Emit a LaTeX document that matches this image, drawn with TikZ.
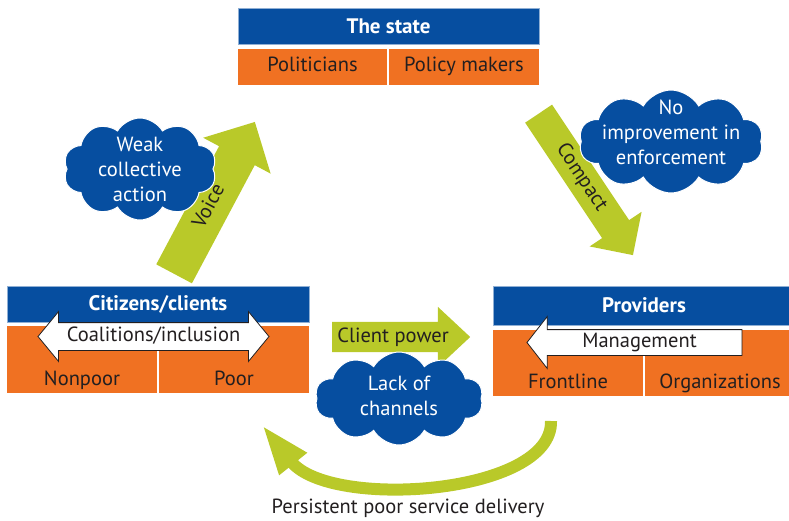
\documentclass[tikz,border=0pt]{standalone}
\usepackage{fontspec}
\setmainfont{PT Sans}
\usetikzlibrary{positioning,shapes.symbols,shapes.arrows,arrows.meta}
\definecolor{wbblue}{RGB}{6,78,160}
\definecolor{wborange}{RGB}{240,113,34}
\definecolor{wbgreen}{RGB}{185,201,41}
\definecolor{wbtext}{RGB}{35,31,32}

\begin{document}
\begin{tikzpicture}[x=1pt,y=-1pt,font=\fontsize{20.5}{25}\selectfont,text=wbtext]
\tikzstyle{header}=[rectangle,fill=wbblue,draw=wbblue!45,line width=0.6pt,text=white,font=\fontsize{21}{24}\selectfont\bfseries,inner sep=0pt,outer sep=0pt,minimum height=36pt]
\tikzstyle{cell}=[rectangle,fill=wborange,inner sep=0pt,outer sep=0pt,minimum width=150pt]
\tikzstyle{blob}=[cloud,cloud puffs=10,cloud puff arc=120,cloud ignores aspect,fill=wbblue,draw=white,line width=1pt,inner sep=0pt]
\tikzstyle{blobtext}=[text=white,align=center]
\tikzstyle{bigarrow}=[single arrow,fill=wbgreen,inner xsep=0pt,text height=14pt,text depth=4pt,single arrow head indent=0pt]
\tikzstyle{openarrow}=[fill=white,draw=wbtext,line width=0.8pt,inner xsep=0pt,text height=14pt,text depth=4pt]

\useasboundingbox (0,0) rectangle (789,520);

% the state
\node[header,minimum width=301pt,anchor=north west] (state) at (238,8) {The state};
\node[cell,minimum width=149pt,text height=22pt,text depth=14pt,below right=5pt and 0pt of state.south west] (politicians) {Politicians};
\node[cell,text height=22pt,text depth=14pt,right=2pt of politicians] (policymakers) {Policy makers};

% citizens
\node[header,minimum width=302pt,anchor=north west] (citizens) at (7,286) {Citizens/clients};
\node[cell,text height=59pt,text depth=8pt,below right=4pt and 0pt of citizens.south west] (nonpoor) {Nonpoor};
\node[cell,text height=59pt,text depth=8pt,right=2pt of nonpoor] (poor) {Poor};

% providers
\node[header,minimum width=302pt,minimum height=39pt,anchor=north west] (providers) at (493,286) {Providers};
\node[cell,text height=58pt,text depth=8pt,below right=5pt and 0pt of providers.south west] (frontline) {Frontline};
\node[cell,text height=58pt,text depth=8pt,right=2pt of frontline] (organizations) {Organizations};

% accountability arrows
\node[bigarrow,minimum height=172pt,inner ysep=11pt,single arrow head extend=18pt,rotate=62,anchor=tail] (voice) at (174,274) {Voice};
\node[bigarrow,minimum height=170pt,inner ysep=7pt,single arrow head extend=15pt,rotate=-56.3,anchor=tail] (compact) at (538.5,113.5) {Compact};
\node[bigarrow,minimum height=138pt,inner ysep=6pt,single arrow head extend=15pt,single arrow tip angle=86,anchor=tail] (clientpower) at (332,337) {Client power};

\node[openarrow,double arrow,minimum height=231pt,inner ysep=4.5pt,double arrow head extend=11pt,double arrow tip angle=101] (coalitions) at (153.5,336.5) {Coalitions/inclusion};
\node[openarrow,single arrow,shape border rotate=180,minimum height=215pt,inner ysep=3.5pt,single arrow head extend=13pt,single arrow tip angle=104,single arrow head indent=0pt] (management) at (639.5,342.5) {Management};

% loop back
\coordinate (loopstart) at (551,421);
\coordinate (loopend) at (262,425);
\draw[wbgreen,line width=12pt,-{Triangle[length=50pt,width=32pt]}] (loopstart) .. controls (553,495) and (330,510) .. (loopend);
\node[anchor=base] (caption) at (408,513) {Persistent poor service delivery};

% clouds
\node[blob,minimum width=153pt,minimum height=102pt,label={[blobtext]center:Weak\\collective\\action}] (weak) at (140,169) {};
\node[blob,minimum width=184pt,minimum height=103pt,label={[blobtext,yshift=9pt]center:No\\improvement in\\enforcement}] (noimprove) at (671,141.5) {};
\node[blob,minimum width=168pt,minimum height=93pt,label={[blobtext,yshift=3pt]center:Lack of\\channels}] (lack) at (399,398.5) {};

\end{tikzpicture}
\end{document}
